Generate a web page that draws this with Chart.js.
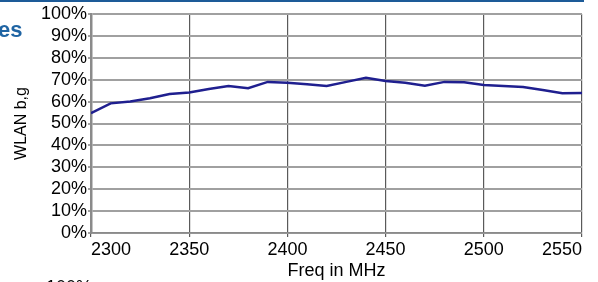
<!DOCTYPE html>
<html>
<head>
<meta charset="utf-8">
<script src="https://cdn.jsdelivr.net/npm/chart.js@4"></script>
<style>
  html, body { margin: 0; padding: 0; background: #fff; overflow: hidden; }
  body { width: 598px; height: 282px; position: relative; font-family: "Liberation Sans", Arial, sans-serif; }
  #topbar { position: absolute; left: 0; top: 0; width: 584px; height: 2px; background: #1d5b98; }
  #title { position: absolute; left: -2px; top: 17px; font-size: 22px; font-weight: bold; color: #1f64a3; }
  #next { position: absolute; left: 46px; top: 277px; font-size: 18px; color: #000; }
  #wrap { position: absolute; left: 0; top: 0; width: 598px; height: 282px; }
</style>
</head>
<body>
<div id="wrap"><canvas id="chart"></canvas></div>
<div id="topbar"></div>
<div id="title">es</div>
<div id="next">100%</div>
<script>
// 数据
const freqs = [2300, 2310, 2320, 2330, 2340, 2350, 2360, 2370, 2380, 2390, 2400, 2410, 2420,
               2430, 2440, 2450, 2460, 2470, 2480, 2490, 2500, 2510, 2520, 2530, 2540, 2550];
const wlanBG = [54.7, 59.2, 60.0, 61.5, 63.5, 64.2, 65.8, 67.1, 66.1, 69.0, 68.6, 67.9, 67.1,
                69.0, 70.9, 69.4, 68.6, 67.3, 69.0, 68.8, 67.6, 67.1, 66.7, 65.3, 63.8, 63.9];
const yTicks = [0, 10, 20, 30, 40, 50, 60, 70, 80, 90, 100];
const xTicks = [2300, 2350, 2400, 2450, 2500, 2550];

const font = { family: '"Liberation Sans", Arial, sans-serif', size: 18 };

const ctx = document.getElementById('chart').getContext('2d');
const chart = new Chart(ctx, {
    type: 'line',
    data: {
        datasets: [{
            label: 'WLAN b,g',
            data: freqs.map((f, i) => ({ x: f, y: wlanBG[i] })),
            borderColor: '#1f1f8f',
            borderWidth: 2.5,
            tension: 0,
            pointRadius: 0
        }]
    },
    options: {
        responsive: true,
        maintainAspectRatio: false,
        animation: false,
        layout: { padding: { left: 0, right: 16, top: 14, bottom: 0 } },
        plugins: { legend: { display: false }, tooltip: { enabled: false } },
        scales: {
            x: {
                type: 'linear',
                min: 2300,
                max: 2550,
                afterBuildTicks: s => { s.ticks = xTicks.map(v => ({ value: v })); },
                afterFit: s => { s.height = 49; },
                ticks: { color: '#000', font: font, align: 'inner', maxRotation: 0, padding: 2,
                         autoSkip: false, callback: v => String(v) },
                grid: { color: '#5a5a5a', lineWidth: 1.2, tickLength: 4 },
                border: { color: '#8a8a8a', width: 1.5 },
                title: { display: true, text: 'Freq in MHz', color: '#000', font: font, padding: { top: 0, bottom: 0 } }
            },
            y: {
                min: 0,
                max: 100,
                afterBuildTicks: s => { s.ticks = yTicks.map(v => ({ value: v })); },
                afterFit: s => { s.width = 91; },
                ticks: { color: '#000', font: font, padding: 1, autoSkip: false, callback: v => v + '%' },
                grid: { color: '#a0a0a0', lineWidth: 2, tickLength: 3 },
                border: { color: '#8a8a8a', width: 2.5 },
                title: { display: true, text: 'WLAN b,g', color: '#000',
                         font: { family: font.family, size: 16 }, padding: { top: 12, bottom: 0 } }
            }
        }
    }
});
</script>
</body>
</html>
